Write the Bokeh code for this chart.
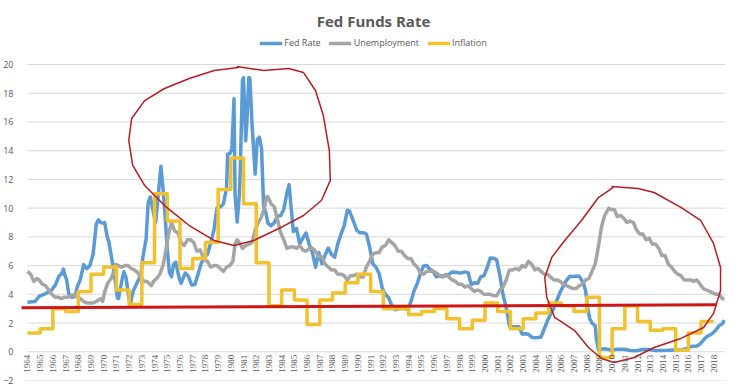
import math
from bokeh.plotting import figure
from bokeh.models import Range1d, FixedTicker, Legend, LegendItem, LabelSet, ColumnDataSource
from bokeh.embed import file_html
from bokeh.resources import INLINE

# ---------------- data ----------------
fed_dates = [
    "1964-01", "1964-08", "1964-12", "1965-06", "1965-12", "1966-03", "1966-07", "1966-09", "1966-11", "1966-12",
    "1967-02", "1967-04", "1967-07", "1967-10", "1967-12", "1968-03", "1968-06", "1968-09", "1968-12",
    "1969-03", "1969-06", "1969-08", "1969-10", "1969-12", "1970-02", "1970-04", "1970-06", "1970-09", "1970-12",
    "1971-02", "1971-03", "1971-06", "1971-08", "1971-10", "1971-12", "1972-02", "1972-05", "1972-09", "1972-12",
    "1973-02", "1973-05", "1973-07", "1973-09", "1973-11", "1974-02", "1974-04", "1974-07", "1974-09", "1974-11",
    "1975-01", "1975-03", "1975-05", "1975-07", "1975-09", "1975-12", "1976-02", "1976-06", "1976-09", "1976-12",
    "1977-03", "1977-06", "1977-09", "1977-12", "1978-03", "1978-06", "1978-09", "1978-12",
    "1979-03", "1979-06", "1979-09", "1979-10", "1979-12", "1980-02", "1980-04", "1980-05", "1980-07", "1980-09",
    "1980-10", "1980-11", "1980-12", "1981-01", "1981-03", "1981-04", "1981-06", "1981-07", "1981-09", "1981-12",
    "1982-02", "1982-04", "1982-06", "1982-08", "1982-10", "1982-12", "1983-03", "1983-06", "1983-09", "1983-12",
    "1984-03", "1984-06", "1984-08", "1984-10", "1984-12", "1985-03", "1985-06", "1985-09", "1985-12",
    "1986-03", "1986-06", "1986-09", "1986-12", "1987-03", "1987-06", "1987-09", "1987-12",
    "1988-03", "1988-06", "1988-09", "1988-12", "1989-03", "1989-05", "1989-08", "1989-12",
    "1990-03", "1990-06", "1990-09", "1990-12", "1991-03", "1991-06", "1991-09", "1991-12",
    "1992-03", "1992-06", "1992-09", "1992-12", "1993-06", "1993-12", "1994-03", "1994-06", "1994-09", "1994-12",
    "1995-03", "1995-06", "1995-09", "1995-12", "1996-03", "1996-06", "1996-09", "1996-12",
    "1997-03", "1997-06", "1997-09", "1997-12", "1998-03", "1998-06", "1998-09", "1998-12",
    "1999-03", "1999-06", "1999-09", "1999-12", "2000-03", "2000-06", "2000-09", "2000-12",
    "2001-03", "2001-06", "2001-09", "2001-12", "2002-03", "2002-06", "2002-09", "2002-12",
    "2003-03", "2003-06", "2003-09", "2003-12", "2004-03", "2004-06", "2004-09", "2004-12",
    "2005-03", "2005-06", "2005-09", "2005-12", "2006-03", "2006-06", "2006-09", "2006-12",
    "2007-03", "2007-06", "2007-08", "2007-10", "2007-12", "2008-02", "2008-04", "2008-06", "2008-09", "2008-10", "2008-12",
    "2009-06", "2009-12", "2010-06", "2010-12", "2011-06", "2011-12", "2012-06", "2012-12", "2013-06", "2013-12",
    "2014-06", "2014-12", "2015-06", "2015-12", "2016-03", "2016-06", "2016-09", "2016-12",
    "2017-03", "2017-06", "2017-09", "2017-12", "2018-03", "2018-06", "2018-09", "2018-11",
]
fed_rate = [
    3.45, 3.50, 3.85, 4.04, 4.32, 4.60, 5.30, 5.40, 5.76, 5.40,
    5.00, 4.05, 3.79, 3.88, 4.51, 5.05, 6.07, 5.78, 6.02,
    6.79, 8.90, 9.19, 9.00, 8.97, 8.98, 8.10, 7.60, 6.29, 4.90,
    3.72, 3.71, 4.91, 5.57, 5.20, 4.14, 3.29, 4.27, 4.87, 5.33,
    6.58, 7.84, 10.40, 10.78, 10.03, 8.97, 10.51, 12.92, 11.34, 9.45,
    7.13, 5.54, 5.22, 6.10, 6.24, 5.20, 4.77, 5.48, 5.25, 4.65,
    4.69, 5.39, 6.14, 6.56, 6.79, 7.60, 8.45, 10.03,
    10.09, 10.29, 11.43, 13.77, 13.78, 14.13, 17.61, 10.98, 9.03, 10.87,
    12.81, 15.85, 18.90, 19.08, 14.70, 15.72, 19.10, 19.04, 15.87, 12.37,
    14.78, 14.94, 14.15, 10.12, 9.71, 8.95, 8.77, 8.98, 9.45, 9.47,
    9.91, 11.06, 11.64, 9.99, 8.38, 8.58, 7.53, 7.92, 8.27,
    7.48, 6.92, 5.89, 6.91, 6.13, 6.73, 7.22, 6.77,
    6.58, 7.51, 8.19, 8.76, 9.85, 9.81, 9.24, 8.45,
    8.28, 8.29, 8.20, 7.31, 6.12, 5.90, 5.45, 4.43,
    3.98, 3.76, 3.22, 2.92, 3.04, 2.96, 3.48, 4.25, 4.73, 5.45,
    5.98, 6.00, 5.74, 5.60, 5.22, 5.27, 5.30, 5.29,
    5.39, 5.56, 5.54, 5.50, 5.49, 5.56, 5.51, 4.68,
    4.81, 4.76, 5.22, 5.30, 5.85, 6.53, 6.52, 6.40,
    5.31, 3.97, 3.07, 1.82, 1.73, 1.75, 1.75, 1.24,
    1.25, 1.22, 1.01, 0.98, 1.00, 1.03, 1.61, 2.16,
    2.63, 3.04, 3.62, 4.16, 4.59, 4.99, 5.25, 5.24,
    5.26, 5.25, 5.02, 4.76, 4.24, 2.98, 2.28, 2.00, 1.81, 0.97, 0.16,
    0.21, 0.12, 0.18, 0.18, 0.09, 0.07, 0.16, 0.16, 0.09, 0.09,
    0.10, 0.12, 0.13, 0.24, 0.36, 0.38, 0.40, 0.54,
    0.79, 1.04, 1.15, 1.30, 1.51, 1.82, 1.95, 2.20,
]

unemp_dates = [
    "1964-01", "1964-04", "1964-07", "1964-10", "1964-12", "1965-03", "1965-06", "1965-09", "1965-12",
    "1966-03", "1966-06", "1966-09", "1966-12", "1967-03", "1967-06", "1967-10", "1967-12",
    "1968-03", "1968-06", "1968-09", "1968-12", "1969-03", "1969-06", "1969-10", "1969-12",
    "1970-02", "1970-05", "1970-08", "1970-10", "1970-12", "1971-03", "1971-06", "1971-09", "1971-12",
    "1972-03", "1972-06", "1972-09", "1972-12", "1973-03", "1973-06", "1973-10", "1973-12",
    "1974-03", "1974-06", "1974-09", "1974-12", "1975-02", "1975-05", "1975-08", "1975-11",
    "1976-02", "1976-05", "1976-08", "1976-11", "1977-02", "1977-05", "1977-08", "1977-12",
    "1978-03", "1978-06", "1978-09", "1978-12", "1979-03", "1979-06", "1979-09", "1979-12",
    "1980-03", "1980-05", "1980-07", "1980-10", "1980-12", "1981-03", "1981-06", "1981-09", "1981-12",
    "1982-03", "1982-06", "1982-09", "1982-11", "1982-12", "1983-03", "1983-06", "1983-09", "1983-12",
    "1984-03", "1984-06", "1984-09", "1984-12", "1985-03", "1985-06", "1985-09", "1985-12",
    "1986-03", "1986-06", "1986-09", "1986-12", "1987-03", "1987-06", "1987-09", "1987-12",
    "1988-03", "1988-06", "1988-09", "1988-12", "1989-03", "1989-06", "1989-09", "1989-12",
    "1990-03", "1990-06", "1990-09", "1990-12", "1991-03", "1991-06", "1991-09", "1991-12",
    "1992-03", "1992-06", "1992-09", "1992-12", "1993-03", "1993-06", "1993-09", "1993-12",
    "1994-03", "1994-06", "1994-09", "1994-12", "1995-03", "1995-06", "1995-09", "1995-12",
    "1996-03", "1996-06", "1996-09", "1996-12", "1997-03", "1997-06", "1997-09", "1997-12",
    "1998-03", "1998-06", "1998-09", "1998-12", "1999-03", "1999-06", "1999-09", "1999-12",
    "2000-03", "2000-06", "2000-09", "2000-12", "2001-03", "2001-06", "2001-09", "2001-12",
    "2002-03", "2002-06", "2002-09", "2002-12", "2003-03", "2003-06", "2003-09", "2003-12",
    "2004-03", "2004-06", "2004-09", "2004-12", "2005-03", "2005-06", "2005-09", "2005-12",
    "2006-03", "2006-06", "2006-09", "2006-12", "2007-03", "2007-06", "2007-09", "2007-12",
    "2008-03", "2008-06", "2008-09", "2008-12", "2009-03", "2009-06", "2009-10", "2009-12",
    "2010-03", "2010-06", "2010-09", "2010-12", "2011-03", "2011-06", "2011-09", "2011-12",
    "2012-03", "2012-06", "2012-09", "2012-12", "2013-03", "2013-06", "2013-09", "2013-12",
    "2014-03", "2014-06", "2014-09", "2014-12", "2015-03", "2015-06", "2015-09", "2015-12",
    "2016-03", "2016-06", "2016-09", "2016-12", "2017-03", "2017-06", "2017-09", "2017-12",
    "2018-03", "2018-06", "2018-09", "2018-11",
]
unemployment = [
    5.6, 5.4, 4.9, 5.1, 5.0, 4.7, 4.6, 4.3, 4.0,
    3.8, 3.8, 3.7, 3.8, 3.8, 3.9, 4.0, 3.8,
    3.7, 3.5, 3.4, 3.4, 3.4, 3.5, 3.7, 3.5,
    4.2, 4.8, 5.1, 5.5, 6.1, 6.0, 5.9, 6.0, 6.0,
    5.8, 5.7, 5.5, 5.2, 4.9, 4.9, 4.6, 4.9,
    5.1, 5.4, 6.0, 7.2, 8.1, 9.0, 8.4, 8.3,
    7.6, 7.4, 7.8, 7.8, 7.6, 7.0, 7.1, 6.4,
    6.3, 5.9, 6.0, 6.0, 5.8, 5.6, 5.9, 6.0,
    6.3, 7.5, 7.8, 7.5, 7.2, 7.4, 7.5, 7.6, 8.5,
    9.0, 9.4, 10.1, 10.8, 10.8, 10.3, 10.1, 9.2, 8.3,
    7.8, 7.2, 7.3, 7.3, 7.2, 7.4, 7.1, 7.0,
    7.2, 7.2, 7.0, 6.6, 6.6, 6.1, 5.9, 5.7,
    5.7, 5.4, 5.4, 5.3, 5.0, 5.3, 5.3, 5.4,
    5.2, 5.2, 5.9, 6.3, 6.8, 6.9, 6.9, 7.3,
    7.4, 7.8, 7.6, 7.4, 7.0, 7.0, 6.7, 6.5,
    6.5, 6.1, 5.9, 5.5, 5.4, 5.6, 5.6, 5.6,
    5.5, 5.3, 5.2, 5.4, 5.2, 5.0, 4.9, 4.7,
    4.7, 4.5, 4.6, 4.4, 4.2, 4.3, 4.2, 4.0,
    4.0, 4.0, 3.9, 3.9, 4.3, 4.5, 5.0, 5.7,
    5.7, 5.8, 5.7, 6.0, 5.9, 6.3, 6.1, 5.7,
    5.8, 5.6, 5.4, 5.4, 5.2, 5.0, 5.0, 4.9,
    4.7, 4.6, 4.5, 4.4, 4.4, 4.6, 4.7, 5.0,
    5.1, 5.6, 6.1, 7.3, 8.7, 9.5, 10.0, 9.9,
    9.9, 9.4, 9.5, 9.3, 9.0, 9.1, 9.0, 8.5,
    8.2, 8.2, 7.8, 7.9, 7.5, 7.5, 7.2, 6.7,
    6.7, 6.1, 5.9, 5.6, 5.4, 5.3, 5.0, 5.0,
    5.0, 4.9, 5.0, 4.7, 4.4, 4.3, 4.2, 4.1,
    4.0, 4.0, 3.7, 3.7,
]

inflation_years = list(range(1964, 2018))
inflation = [
    1.3, 1.6, 3.0, 2.8, 4.2, 5.4, 5.9, 4.3, 3.3, 6.2,
    11.0, 9.1, 5.8, 6.5, 7.6, 11.3, 13.5, 10.3, 6.2, 3.2,
    4.3, 3.6, 1.9, 3.6, 4.1, 4.8, 5.4, 4.2, 3.0, 3.0,
    2.6, 2.8, 3.0, 2.3, 1.6, 2.2, 3.4, 2.8, 1.6, 2.3,
    2.7, 3.4, 3.2, 2.8, 3.8, -0.4, 1.6, 3.2, 2.1, 1.5,
    1.6, 0.1, 1.3, 2.1,
]

year_labels = [str(y) for y in range(1964, 2019)]
y_ticks = list(range(-2, 21, 2))
x_start, x_end = 1964.0, 2018.92

# hand-drawn red annotations (year, value)
red_line_x = [1963.4, 2018.2]
red_line_y = [3.07, 3.27]
circle1_x = [1980.48, 1982.59, 1984.55, 1985.72, 1986.66, 1987.28, 1987.75, 1987.83, 1987.13, 1985.72,
             1983.77, 1981.81, 1980.25, 1978.69, 1976.73, 1974.78, 1973.22, 1972.28, 1971.97, 1972.20,
             1973.22, 1974.78, 1976.73, 1978.69, 1980.60]
circle1_y = [19.86, 19.58, 19.72, 19.44, 18.19, 16.45, 14.01, 11.93, 10.53, 9.49,
             8.58, 7.75, 7.40, 7.75, 8.79, 10.18, 11.58, 12.97, 14.71, 16.24,
             17.49, 18.33, 19.03, 19.58, 19.80]
circle2_x = [2009.94, 2012.05, 2013.30, 2015.41, 2016.97, 2017.98, 2018.53, 2018.53, 2017.98, 2017.20,
             2015.41, 2013.30, 2011.73, 2010.17, 2009.16, 2008.14, 2007.05, 2005.48, 2004.86, 2004.70,
             2005.25, 2006.27, 2007.59, 2008.92, 2010.10]
circle2_y = [11.51, 11.37, 11.09, 10.05, 9.14, 7.54, 5.87, 4.27, 2.67, 1.69,
             0.93, 0.30, -0.40, -0.75, -0.47, 0.30, 1.48, 2.39, 3.78, 5.17,
             6.57, 7.75, 9.14, 10.74, 11.45]


def to_year(d):
    y, m = d.split("-")
    return int(y) + (int(m) - 1) / 12.0


fed_x = [to_year(d) for d in fed_dates]
unemp_x = [to_year(d) for d in unemp_dates]
infl_x = inflation_years + [inflation_years[-1] + 1]
infl_y = inflation + [inflation[-1]]

TXT = "#595959"
FONT = "Open Sans"

# frame: x from 16 to 725 (12.8 px/yr), y from 34 to 380 (14.364 px/unit)
p = figure(width=736, height=390, output_backend="svg", toolbar_location=None,
           x_axis_type=None,
           x_range=Range1d(x_start - 6 / 12.8, x_end), y_range=Range1d(-2, 22.09),
           min_border_left=16, min_border_right=11, min_border_bottom=10, min_border_top=34)
p.outline_line_color = None
p.background_fill_color = "white"
p.border_fill_color = "white"

p.title.text = "Fed Funds Rate"
p.title.align = "center"
p.title.text_font = FONT
p.title.text_font_size = "15px"
p.title.text_font_style = "bold"
p.title.text_color = TXT
p.title.standoff = 8

p.xgrid.visible = False
p.ygrid.visible = False
p.yaxis.ticker = FixedTicker(ticks=y_ticks)
p.yaxis.axis_line_color = None
p.yaxis.major_tick_line_color = None
p.yaxis.minor_tick_line_color = None
p.yaxis.major_label_text_font = FONT
p.yaxis.major_label_text_font_size = "9px"
p.yaxis.major_label_text_color = TXT
p.yaxis.major_label_standoff = 2

# horizontal gridlines spanning the category area only
p.segment(x0=[x_start] * len(y_ticks), x1=[x_end] * len(y_ticks), y0=y_ticks, y1=y_ticks,
          line_color="#d9d9d9", line_width=1)

r_fed = p.line(fed_x, fed_rate, line_color="#5b9bd5", line_width=3.5, line_join="round")
r_un = p.line(unemp_x, unemployment, line_color="#a5a5a5", line_width=3.5, line_join="round")
r_inf = p.step(infl_x, infl_y, mode="after", line_color="#f2c12e", line_width=3.5, line_join="round")

# category labels just below the zero line
label_src = ColumnDataSource(dict(x=[int(s) for s in year_labels],
                                  y=[-0.2] * len(year_labels),
                                  text=year_labels))
p.add_layout(LabelSet(x="x", y="y", text="text", source=label_src,
                      angle=math.pi / 2, text_align="right", text_baseline="middle",
                      text_font=FONT, text_font_size="9px", text_color=TXT))

# red annotations
p.line(red_line_x, red_line_y, line_color="#d01515", line_width=3)
p.line(circle1_x, circle1_y, line_color="#b81c22", line_width=1.5, line_join="round")
p.line(circle2_x, circle2_y, line_color="#b81c22", line_width=1.5, line_join="round")

legend = Legend(items=[LegendItem(label="Fed Rate", renderers=[r_fed]),
                       LegendItem(label="Unemployment", renderers=[r_un]),
                       LegendItem(label="Inflation", renderers=[r_inf])],
                orientation="horizontal", location="top_center",
                label_text_font=FONT, label_text_font_size="9px", label_text_color=TXT,
                glyph_width=23, glyph_height=10, label_height=10, label_standoff=2,
                spacing=8, padding=2, margin=2,
                border_line_color=None, background_fill_alpha=0)
p.add_layout(legend, "center")

open("out.html", "w").write(file_html(p, INLINE))
